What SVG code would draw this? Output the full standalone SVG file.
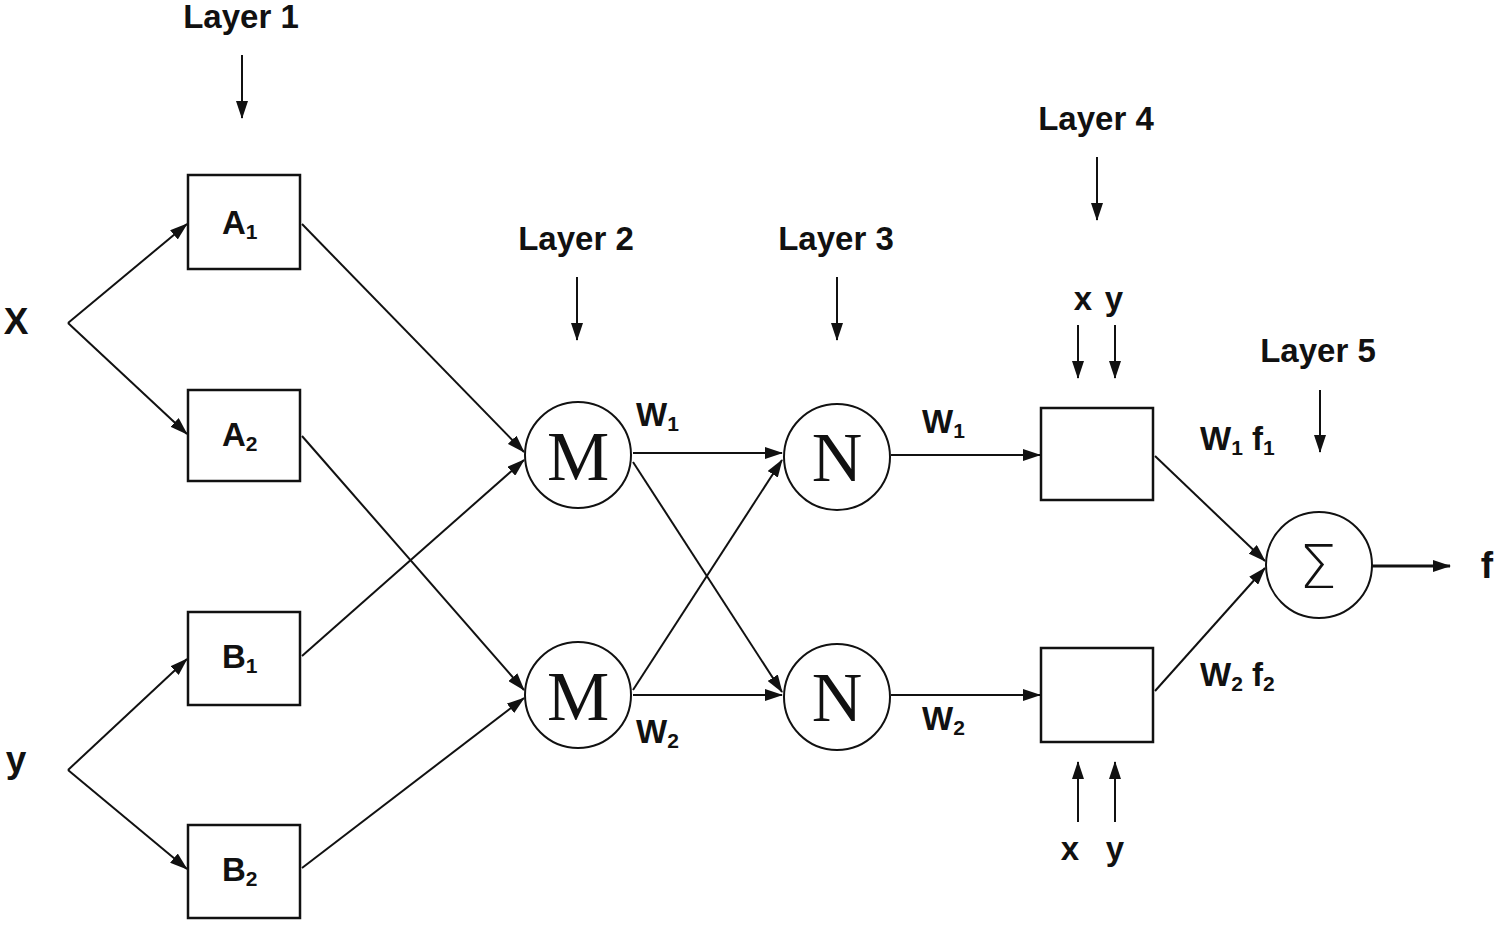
<svg xmlns="http://www.w3.org/2000/svg" width="1500" height="925" viewBox="0 0 1500 925">
<defs>
<marker id="ah" viewBox="0 0 18 12" refX="17" refY="6" markerWidth="18" markerHeight="12" markerUnits="userSpaceOnUse" orient="auto">
<path d="M0,0 L18,6 L0,12 Z" fill="#111"/>
</marker>
</defs>
<style>
.lbl{font-family:"Liberation Sans",Arial,sans-serif;font-weight:bold;font-size:33px;fill:#111}
.sub{font-size:21px}
.big{font-family:"Liberation Serif","Times New Roman",serif;font-size:70px;fill:#111}
.box{fill:#fff;stroke:#111;stroke-width:2.5}
.circ{fill:#fff;stroke:#111;stroke-width:2}
.ln{stroke:#111;stroke-width:2;fill:none;marker-end:url(#ah)}
</style>
<rect width="1500" height="925" fill="#fff"/>

<g id="labels">
<text class="lbl" x="241" y="28" text-anchor="middle">Layer 1</text>
<text class="lbl" x="576" y="250" text-anchor="middle">Layer 2</text>
<text class="lbl" x="836" y="250" text-anchor="middle">Layer 3</text>
<text class="lbl" x="1096" y="130" text-anchor="middle">Layer 4</text>
<text class="lbl" x="1318" y="362" text-anchor="middle">Layer 5</text>
<text class="lbl" x="16" y="334" text-anchor="middle" style="font-size:37px">X</text>
<text class="lbl" x="16" y="772" text-anchor="middle" style="font-size:37px">y</text>
<text class="lbl" x="1487" y="578" text-anchor="middle" style="font-size:37px">f</text>
<text class="lbl" x="1083" y="310" text-anchor="middle">x</text>
<text class="lbl" x="1114" y="310" text-anchor="middle">y</text>
<text class="lbl" x="1070" y="860" text-anchor="middle">x</text>
<text class="lbl" x="1115" y="860" text-anchor="middle">y</text>
<text class="lbl" x="636" y="426">W<tspan class="sub" dy="5">1</tspan></text>
<text class="lbl" x="636" y="743">W<tspan class="sub" dy="5">2</tspan></text>
<text class="lbl" x="922" y="433">W<tspan class="sub" dy="5">1</tspan></text>
<text class="lbl" x="922" y="730">W<tspan class="sub" dy="5">2</tspan></text>
<text class="lbl" x="1200" y="450">W<tspan class="sub" dy="5">1</tspan><tspan dy="-5"> f</tspan><tspan class="sub" dy="5">1</tspan></text>
<text class="lbl" x="1200" y="686">W<tspan class="sub" dy="5">2</tspan><tspan dy="-5"> f</tspan><tspan class="sub" dy="5">2</tspan></text>
</g>

<g id="connectors">
<line class="ln" x1="242" y1="55" x2="242" y2="118"/>
<line class="ln" x1="577" y1="277" x2="577" y2="340"/>
<line class="ln" x1="837" y1="277" x2="837" y2="340"/>
<line class="ln" x1="1097" y1="157" x2="1097" y2="220"/>
<line class="ln" x1="1320" y1="390" x2="1320" y2="452"/>
<line class="ln" x1="1078" y1="325" x2="1078" y2="378"/>
<line class="ln" x1="1115" y1="325" x2="1115" y2="378"/>
<line class="ln" x1="1078" y1="822" x2="1078" y2="762"/>
<line class="ln" x1="1115" y1="822" x2="1115" y2="762"/>
<line class="ln" x1="68" y1="323" x2="187" y2="224"/>
<line class="ln" x1="68" y1="323" x2="187" y2="434"/>
<line class="ln" x1="68" y1="770" x2="187" y2="659"/>
<line class="ln" x1="68" y1="770" x2="187" y2="869"/>
<line class="ln" x1="302" y1="224" x2="524" y2="452"/>
<line class="ln" x1="302" y1="656" x2="524" y2="460"/>
<line class="ln" x1="302" y1="436" x2="524" y2="690"/>
<line class="ln" x1="302" y1="868" x2="524" y2="698"/>
<line class="ln" x1="633" y1="453" x2="782" y2="453"/>
<line class="ln" x1="633" y1="462" x2="782" y2="692"/>
<line class="ln" x1="633" y1="690" x2="782" y2="460"/>
<line class="ln" x1="633" y1="695" x2="782" y2="695"/>
<line class="ln" x1="891" y1="455" x2="1040" y2="455"/>
<line class="ln" x1="891" y1="695" x2="1040" y2="695"/>
<line class="ln" x1="1155" y1="456" x2="1265" y2="561"/>
<line class="ln" x1="1155" y1="691" x2="1265" y2="568"/>
<line class="ln" x1="1372" y1="566" x2="1450" y2="566" style="stroke-width:3"/>
</g>

<g id="A1"><rect class="box" x="188" y="175" width="112" height="94"/><text class="lbl" x="222" y="234">A<tspan class="sub" dy="5">1</tspan></text></g>
<g id="A2"><rect class="box" x="188" y="390" width="112" height="91"/><text class="lbl" x="222" y="446">A<tspan class="sub" dy="5">2</tspan></text></g>
<g id="B1"><rect class="box" x="188" y="612" width="112" height="93"/><text class="lbl" x="222" y="668">B<tspan class="sub" dy="5">1</tspan></text></g>
<g id="B2"><rect class="box" x="188" y="825" width="112" height="93"/><text class="lbl" x="222" y="881">B<tspan class="sub" dy="5">2</tspan></text></g>

<g id="M1"><circle class="circ" cx="578" cy="455" r="53"/><text class="big" x="578" y="480" text-anchor="middle">M</text></g>
<g id="M2"><circle class="circ" cx="578" cy="695" r="53"/><text class="big" x="578" y="720" text-anchor="middle">M</text></g>
<g id="N1"><circle class="circ" cx="837" cy="457" r="53"/><text class="big" x="837" y="481" text-anchor="middle">N</text></g>
<g id="N2"><circle class="circ" cx="837" cy="697" r="53"/><text class="big" x="837" y="721" text-anchor="middle">N</text></g>

<g id="L4top"><rect class="box" x="1041" y="408" width="112" height="92"/></g>
<g id="L4bot"><rect class="box" x="1041" y="648" width="112" height="94"/></g>

<g id="Sigma"><circle class="circ" cx="1319" cy="565" r="53"/><text x="1318" y="588" text-anchor="middle" style="font-family:'DejaVu Sans',sans-serif;font-weight:200;font-size:60px;fill:#111">Σ</text></g>
</svg>
